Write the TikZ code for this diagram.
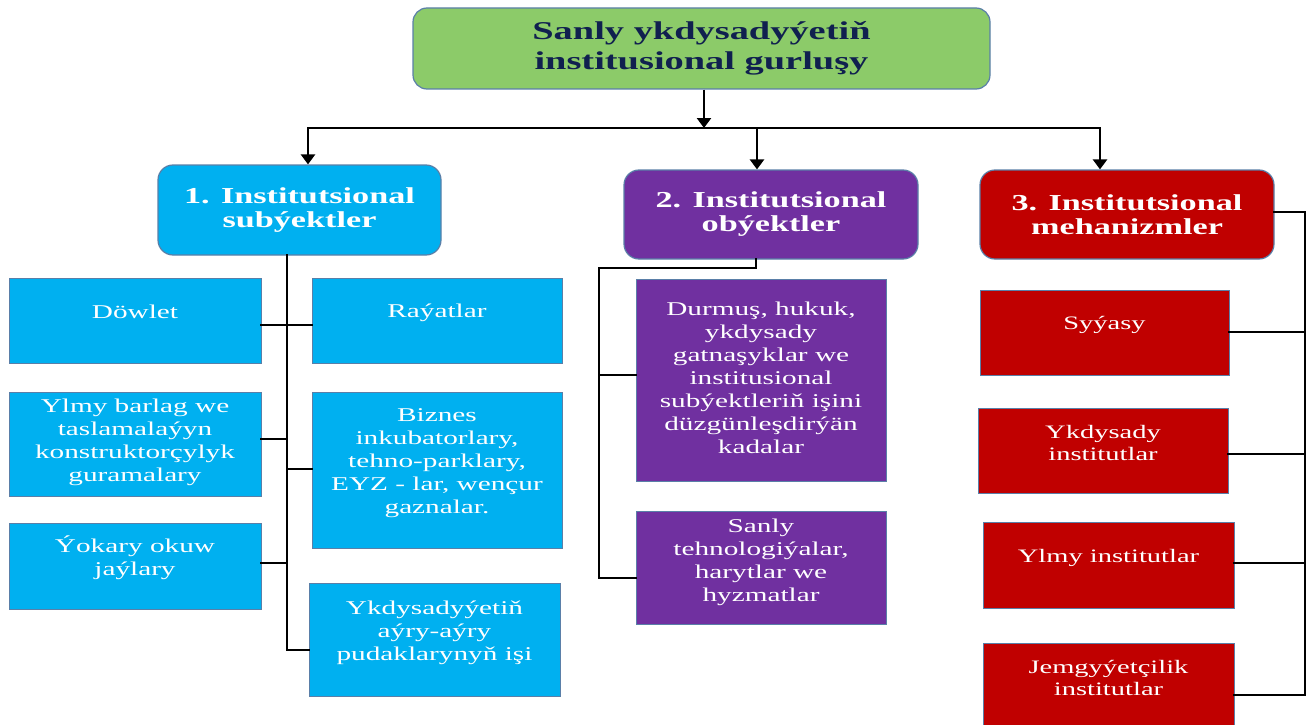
\documentclass[tikz,border=0pt]{standalone}
\usepackage{fontspec}
\setmainfont{Liberation Serif}[FakeStretch=1.5]
\usetikzlibrary{arrows.meta,calc}
\definecolor{cyanbox}{HTML}{00B0F0}
\definecolor{purplebox}{HTML}{7030A0}
\definecolor{redbox}{HTML}{C00000}
\definecolor{greenbox}{HTML}{8CCB69}
\definecolor{edgeblue}{HTML}{5A7FA8}
\definecolor{navytext}{HTML}{10204F}
\def\leaffont{\fontsize{19.5}{23}\selectfont}
\tikzset{
 head/.style={draw=edgeblue, line width=1.2pt, rounded corners=15pt, text=white,
   font=\fontsize{22.8}{24}\selectfont\bfseries, align=center, inner sep=0pt},
 leaf/.style={draw=edgeblue, line width=1pt, inner sep=0pt},
 ltext/.style={text=white, font=\leaffont, align=center, inner sep=0pt},
 conn/.style={line width=2.3pt, black, line cap=rect},
 arr/.style={line width=2.8pt, black, -{Triangle[length=10pt,width=14pt]}},
}
\newcommand\mkbox[8]{%
 \node[leaf, fill=#6, minimum width={#4-#2}, minimum height={#5-#3}] (#1) at ({(#2+#4)/2},{(#3+#5)/2}) {};
 \node[ltext] (#1-t) at ({(#2+#4)/2},#7) {#8};}
\begin{document}
\begin{tikzpicture}[x=1pt,y=-1pt]
\useasboundingbox (0,0) rectangle (1307,725);
\clip (0,0) rectangle (1307,725);

% title and headers
\node[head, fill=greenbox, text=navytext, font=\fontsize{25.6}{30}\selectfont\bfseries,
  minimum width=577, minimum height=81, rounded corners=14pt] (top) at (701.5,48.5)
  {Sanly ykdysadyýetiň\\institusional gurluşy};
\node[head, fill=cyanbox, minimum width=283, minimum height=90] (b1) at (299.5,210) {1. Institutsional\\subýektler};
\node[head, fill=purplebox, minimum width=294, minimum height=89] (b2) at (771,214.5) {2. Institutsional\\obýektler};
\node[head, fill=redbox, minimum width=294, minimum height=89] (b3) at (1127,214.5) {3. Institutsional\\mehanizmler};

% left column
\mkbox{dow}{9}{278}{261}{363}{cyanbox}{312}{Döwlet}
\mkbox{ray}{312}{278}{562}{363}{cyanbox}{313}{Raýatlar}
\mkbox{ylm}{9}{392}{261}{496}{cyanbox}{442}{Ylmy barlag we\\taslamalaýyn\\konstruktorçylyk\\guramalary}
\mkbox{biz}{312}{392}{562}{548}{cyanbox}{463}{Biznes\\inkubatorlary,\\tehno-parklary,\\EYZ - lar, wençur\\gaznalar.}
\mkbox{yok}{9}{523}{261}{609}{cyanbox}{558}{Ýokary okuw\\jaýlary}
\mkbox{ykd}{309}{583}{560}{696}{cyanbox}{633}{Ykdysadyýetiň\\aýry-aýry\\pudaklarynyň işi}

% middle column
\mkbox{dur}{636}{279}{886}{481}{purplebox}{378}{Durmuş, hukuk,\\ykdysady\\gatnaşyklar we\\institusional\\subýektleriň işini\\düzgünleşdirýän\\kadalar}
\mkbox{san}{636}{511}{886}{624}{purplebox}{562}{Sanly\\tehnologiýalar,\\harytlar we\\hyzmatlar}

% right column
\def\leaffont{\fontsize{19}{21.5}\selectfont}
\mkbox{sya}{980}{290}{1229}{375}{redbox}{325}{Syýasy}
\mkbox{yki}{978}{408}{1228}{493}{redbox}{443}{Ykdysady\\institutlar}
\mkbox{yli}{983}{522}{1234}{608}{redbox}{558}{Ylmy institutlar}
\mkbox{jem}{983}{643}{1234}{745}{redbox}{678}{Jemgyýetçilik\\institutlar}

% top connectors
\coordinate (hub) at (704,128);
\coordinate (hl) at (308,128);
\coordinate (hm) at (757,128);
\coordinate (hr) at (1100,128);
\draw[arr] (top.south -| hub) -- (hub);
\draw[conn] (hl) -- (hr);
\draw[arr] (hl) -- (hl |- b1.north);
\draw[arr] (hm) -- (hm |- b2.north);
\draw[arr] (hr) -- (hr |- b3.north);

% left connectors
\coordinate (lv) at (287,650);
\coordinate (j1) at (287,325);
\coordinate (j2) at (287,439);
\coordinate (j3) at (287,469);
\coordinate (j4) at (287,563);
\draw[conn] (b1.south -| lv) -- (lv) -- (lv -| ykd.west);
\draw[conn] (dow.east |- j1) -- (ray.west |- j1);
\draw[conn] (ylm.east |- j2) -- (j2);
\draw[conn] (j3) -- (biz.west |- j3);
\draw[conn] (yok.east |- j4) -- (j4);

% middle connectors
\coordinate (m1) at (756,268);
\coordinate (m2) at (599,268);
\coordinate (m3) at (599,578);
\coordinate (m4) at (599,375);
\draw[conn] (b2.south -| m1) -- (m1) -- (m2) -- (m3) -- (m3 -| san.west);
\draw[conn] (m4) -- (m4 -| dur.west);

% right connectors
\coordinate (r1) at (1305,212);
\coordinate (r2) at (1305,695);
\coordinate (r3) at (1305,332);
\coordinate (r4) at (1305,454);
\coordinate (r5) at (1305,563);
\draw[conn] (b3.east |- r1) -- (r1) -- (r2) -- (r2 -| jem.east);
\draw[conn] (sya.east |- r3) -- (r3);
\draw[conn] (yki.east |- r4) -- (r4);
\draw[conn] (yli.east |- r5) -- (r5);
\end{tikzpicture}
\end{document}
